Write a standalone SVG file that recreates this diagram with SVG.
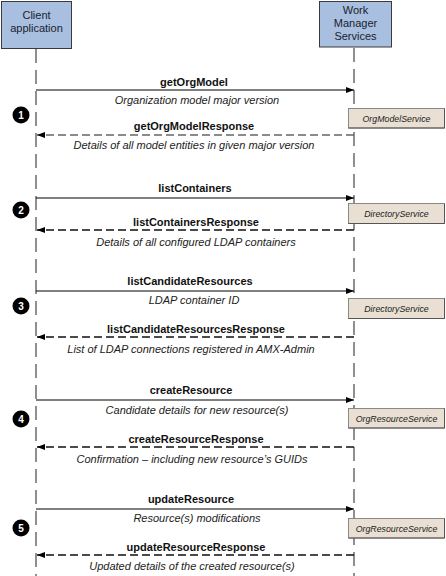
<svg xmlns="http://www.w3.org/2000/svg" width="446" height="576" viewBox="0 0 446 576">
<style>
.hdr{fill:#a8bfdf;stroke:#3a3a3a;stroke-width:1}
.hdrt{font-family:"Liberation Sans",Arial,sans-serif;font-size:11px;fill:#1a2230;text-anchor:middle}
.life{stroke:#555;stroke-width:1.3;stroke-dasharray:14,7;fill:none}
.req{stroke:#000;stroke-width:1;fill:none}
.rsp{stroke:#111;stroke-width:1.3;stroke-dasharray:8,4;fill:none}
.lbl{font-family:"Liberation Sans",Arial,sans-serif;font-size:11px;font-weight:bold;fill:#111;text-anchor:middle}
.desc{font-family:"Liberation Sans",Arial,sans-serif;font-size:11px;font-style:italic;fill:#222;text-anchor:middle}
.svc{fill:#e9e0d3;stroke:#888;stroke-width:1}
.svcsh{fill:none;stroke:#555;stroke-width:1}
.svct{font-family:"Liberation Sans",Arial,sans-serif;font-size:8.8px;font-style:italic;fill:#222;text-anchor:middle}
.bdg{fill:#000}
.bdgt{font-family:"Liberation Sans",Arial,sans-serif;font-size:10px;font-weight:bold;fill:#fff;text-anchor:middle}
</style>
<defs>
<marker id="ah" viewBox="0 0 8 6" refX="8" refY="3" markerWidth="8" markerHeight="6" markerUnits="userSpaceOnUse" orient="auto">
<path d="M0,0 L8,3 L0,6 z" fill="#000"/>
</marker>
</defs>
<rect width="446" height="576" fill="#fff"/>
<g id="lifelines">
<line class="life" x1="36" y1="49" x2="36" y2="576"/>
<line class="life" x1="354" y1="48" x2="354" y2="576"/>
</g>
<g id="client">
<rect class="hdr" x="1.5" y="1.5" width="70" height="47"/>
<text class="hdrt" x="36.5" y="19">Client</text>
<text class="hdrt" x="36.5" y="32">application</text>
</g>
<g id="wms">
<rect class="hdr" x="319.5" y="1.5" width="72" height="45.5"/>
<text class="hdrt" x="355.5" y="14">Work</text>
<text class="hdrt" x="355.5" y="27">Manager</text>
<text class="hdrt" x="355.5" y="40">Services</text>
</g>
<g id="svc1">
<rect class="svc" x="348.5" y="108.5" width="96" height="19.5"/>
<path class="svcsh" d="M444.5,108.5 V128 H348.5"/>
<text class="svct" x="396.5" y="121.5">OrgModelService</text>
</g>
<g id="svc2">
<rect class="svc" x="348.5" y="203.5" width="96" height="20"/>
<path class="svcsh" d="M444.5,203.5 V223.5 H348.5"/>
<text class="svct" x="396.5" y="216.5">DirectoryService</text>
</g>
<g id="svc3">
<rect class="svc" x="348.5" y="298.5" width="96" height="20"/>
<path class="svcsh" d="M444.5,298.5 V318.5 H348.5"/>
<text class="svct" x="396.5" y="311.5">DirectoryService</text>
</g>
<g id="svc4">
<rect class="svc" x="348.5" y="408.5" width="96" height="19.5"/>
<path class="svcsh" d="M444.5,408.5 V428 H348.5"/>
<text class="svct" x="396.5" y="421.5">OrgResourceService</text>
</g>
<g id="svc5">
<rect class="svc" x="348.5" y="518.5" width="96" height="19.5"/>
<path class="svcsh" d="M444.5,518.5 V538 H348.5"/>
<text class="svct" x="396.5" y="531.5">OrgResourceService</text>
</g>
<g id="badges">
<g id="b1"><circle class="bdg" cx="21" cy="115" r="8.5"/><text class="bdgt" x="21" y="118.5">1</text></g>
<g id="b2"><circle class="bdg" cx="21" cy="210" r="8.5"/><text class="bdgt" x="21" y="213.5">2</text></g>
<g id="b3"><circle class="bdg" cx="21" cy="306" r="8.5"/><text class="bdgt" x="21" y="309.5">3</text></g>
<g id="b4"><circle class="bdg" cx="21" cy="419" r="8.5"/><text class="bdgt" x="21" y="422.5">4</text></g>
<g id="b5"><circle class="bdg" cx="21" cy="528" r="8.5"/><text class="bdgt" x="21" y="531.5">5</text></g>
</g>
<g id="connectors">
<line class="req" x1="36" y1="90" x2="354" y2="90" marker-end="url(#ah)"/>
<line class="rsp" x1="354" y1="135" x2="37" y2="135" marker-end="url(#ah)" style="stroke:#666"/>
<line class="req" x1="36" y1="198" x2="354" y2="198" marker-end="url(#ah)"/>
<line class="rsp" x1="354" y1="230" x2="37" y2="230" marker-end="url(#ah)"/>
<line class="req" x1="36" y1="291" x2="354" y2="291" marker-end="url(#ah)"/>
<line class="rsp" x1="354" y1="337" x2="37" y2="337" marker-end="url(#ah)"/>
<line class="req" x1="36" y1="400" x2="354" y2="400" marker-end="url(#ah)"/>
<line class="rsp" x1="354" y1="447" x2="37" y2="447" marker-end="url(#ah)"/>
<line class="req" x1="36" y1="509" x2="354" y2="509" marker-end="url(#ah)"/>
<line class="rsp" x1="354" y1="555" x2="37" y2="555" marker-end="url(#ah)"/>
</g>
<g id="labels">
<text class="lbl" x="194" y="86">getOrgModel</text>
<text class="desc" x="197" y="104">Organization model major version</text>
<text class="lbl" x="194" y="130">getOrgModelResponse</text>
<text class="desc" x="194" y="149">Details of all model entities in given major version</text>
<text class="lbl" x="195" y="192">listContainers</text>
<text class="lbl" x="196" y="226">listContainersResponse</text>
<text class="desc" x="196" y="246">Details of all configured LDAP containers</text>
<text class="lbl" x="190" y="285">listCandidateResources</text>
<text class="desc" x="194" y="304">LDAP container ID</text>
<text class="lbl" x="196" y="333">listCandidateResourcesResponse</text>
<text class="desc" x="191" y="353">List of LDAP connections registered in AMX-Admin</text>
<text class="lbl" x="191" y="394">createResource</text>
<text class="desc" x="197" y="414">Candidate details for new resource(s)</text>
<text class="lbl" x="196" y="443">createResourceResponse</text>
<text class="desc" x="192" y="463">Confirmation – including new resource’s GUIDs</text>
<text class="lbl" x="191" y="503">updateResource</text>
<text class="desc" x="197" y="522">Resource(s) modifications</text>
<text class="lbl" x="196" y="551">updateResourceResponse</text>
<text class="desc" x="192" y="570">Updated details of the created resource(s)</text>
</g>
</svg>
